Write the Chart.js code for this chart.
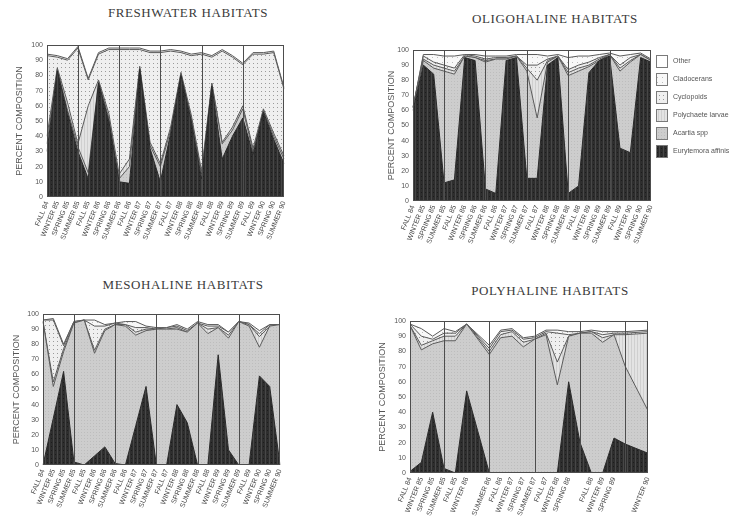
<!DOCTYPE html>
<html>
<head>
<meta charset="utf-8">
<script src="https://cdn.jsdelivr.net/npm/chart.js@4.4.1/dist/chart.umd.min.js"></script>
<style>
body { margin: 0; background: #fff; }
#page { position: relative; width: 736px; height: 521px; overflow: hidden; }
canvas { position: absolute; }
.title {
    position: absolute;
    font-family: "Liberation Serif", "DejaVu Serif", serif;
    font-size: 13px;
    color: #3a3a3a;
    letter-spacing: 0.6px;
    white-space: nowrap;
    transform: translate(-50%, -50%);
}
</style>
</head>
<body>
<div id="page">
    <div class="title" style="left:188px;top:13px">FRESHWATER HABITATS</div>
    <div class="title" style="left:555px;top:19px">OLIGOHALINE HABITATS</div>
    <div class="title" style="left:183px;top:285px">MESOHALINE HABITATS</div>
    <div class="title" style="left:550px;top:291px">POLYHALINE HABITATS</div>
    <canvas id="fresh" width="300" height="250" style="left:0;top:30px"></canvas>
    <canvas id="oligo" width="366" height="250" style="left:370px;top:30px"></canvas>
    <canvas id="meso" width="300" height="221" style="left:0;top:300px"></canvas>
    <canvas id="poly" width="300" height="221" style="left:370px;top:300px"></canvas>
</div>
<script>
const seasons = ['FALL 84', 'WINTER 85', 'SPRING 85', 'SUMMER 85', 'FALL 85', 'WINTER 86', 'SPRING 86', 'SUMMER 86',
    'FALL 86', 'WINTER 87', 'SPRING 87', 'SUMMER 87', 'FALL 87', 'WINTER 88', 'SPRING 88', 'SUMMER 88',
    'FALL 88', 'WINTER 89', 'SPRING 89', 'SUMMER 89', 'FALL 89', 'WINTER 90', 'SPRING 90', 'SUMMER 90'];
const taxa = ['Eurytemora affinis', 'Acartia spp', 'Polychaete larvae', 'Cyclopoids', 'Cladocerans', 'Other'];
const yearBreaks = [3, 7, 11, 15, 19]; // summer samples

// Freshwater (% of sample)
const freshEury    = [30, 83, 55, 30, 12, 75, 50, 10, 9, 84, 32, 10, 42, 80, 50, 12, 73, 25, 40, 52, 28, 56, 38, 22];
const freshAcartia = [5, 1, 2, 3, 4, 1, 2, 2, 11, 1, 2, 10, 2, 1, 2, 3, 1, 10, 4, 6, 2, 1, 2, 3];
const freshPoly    = [5, 1, 5, 2, 44, 1, 3, 3, 5, 1, 2, 2, 2, 1, 2, 2, 1, 1, 2, 2, 2, 1, 2, 2];
const freshCyclo   = [53, 7, 28, 63, 17, 17, 42, 82, 72, 11, 59, 73, 50, 13, 39, 77, 17, 60, 46, 27, 62, 36, 53, 44];
const freshClado   = [1, 1, 1, 1, 1, 1, 1, 1, 1, 1, 1, 1, 1, 1, 1, 1, 1, 1, 1, 1, 1, 1, 1, 1];
const freshOther   = [6, 7, 9, 1, 22, 5, 2, 2, 2, 2, 4, 4, 3, 4, 6, 5, 7, 3, 7, 12, 5, 5, 4, 28];

// Oligohaline
const oligoEury    = [60, 90, 84, 12, 14, 95, 93, 8, 5, 93, 95, 15, 15, 90, 95, 5, 10, 85, 93, 96, 35, 32, 95, 92];
const oligoAcartia = [2, 3, 4, 74, 70, 1, 2, 84, 89, 1, 1, 71, 40, 2, 1, 78, 76, 4, 0, 1, 51, 60, 2, 1];
const oligoPoly    = [0, 1, 2, 2, 2, 0, 0, 1, 0, 0, 0, 2, 25, 1, 0, 2, 2, 1, 1, 0, 2, 1, 0, 0];
const oligoCyclo   = [0, 2, 2, 2, 2, 1, 1, 1, 1, 1, 0, 2, 10, 1, 0, 2, 2, 2, 1, 0, 2, 2, 0, 0];
const oligoClado   = [0, 1, 5, 6, 8, 0, 1, 2, 1, 1, 1, 7, 7, 2, 1, 8, 6, 4, 2, 1, 6, 2, 1, 1];
const oligoOther   = [38, 3, 3, 4, 4, 3, 3, 4, 4, 4, 3, 3, 3, 4, 3, 5, 4, 4, 3, 2, 4, 3, 2, 6];

// Mesohaline
const mesoEury    = [0, 31, 62, 2, 0, 6, 12, 1, 0, 26, 52, 0, 0, 40, 28, 0, 0, 73, 10, 0, 0, 59, 52, 0];
const mesoAcartia = [95, 21, 13, 92, 96, 68, 77, 92, 92, 60, 37, 90, 90, 50, 60, 94, 87, 18, 74, 95, 92, 19, 40, 93];
const mesoPoly    = [0, 3, 2, 0, 0, 2, 1, 0, 1, 2, 1, 0, 0, 1, 0, 0, 3, 0, 2, 0, 1, 7, 0, 0];
const mesoCyclo   = [1, 41, 2, 1, 0, 16, 2, 1, 0, 3, 1, 0, 1, 1, 1, 0, 2, 1, 2, 0, 0, 2, 1, 0];
const mesoClado   = [0, 1, 1, 0, 0, 4, 1, 0, 2, 4, 1, 1, 0, 1, 1, 1, 1, 1, 0, 0, 1, 2, 0, 0];
const mesoOther   = [4, 3, 20, 5, 4, 4, 7, 6, 5, 5, 8, 9, 9, 7, 10, 5, 7, 7, 12, 5, 6, 11, 7, 7];

// Polyhaline: sampled seasons (index into seasons) and the ones that carry a label
const polySampled = [0, 1, 2, 3, 4, 5, 7, 8, 9, 10, 11, 12, 13, 14, 15, 16, 17, 18, 19, 21];
const polyTicks   = [0, 1, 2, 3, 4, 5, 7, 8, 9, 10, 11, 12, 13, 14, 16, 17, 18, 21];
const polyEury    = [1, 7, 40, 3, 0, 54, 0, 0, 0, 0, 0, 0, 0, 60, 20, 0, 0, 23, 19, 13];
const polyAcartia = [96, 74, 45, 84, 87, 44, 78, 89, 90, 83, 88, 91, 58, 30, 72, 92, 86, 68, 51, 28];
const polyPoly    = [0, 3, 2, 3, 3, 0, 2, 2, 3, 3, 0, 1, 15, 0, 0, 1, 3, 0, 21, 51];
const polyCyclo   = [1, 6, 1, 2, 2, 0, 2, 2, 1, 2, 1, 1, 19, 1, 0, 0, 2, 1, 1, 1];
const polyClado   = [0, 5, 2, 3, 1, 0, 2, 1, 1, 1, 1, 1, 2, 2, 1, 1, 2, 1, 1, 1];
const polyOther   = [2, 5, 10, 5, 7, 2, 16, 6, 5, 11, 10, 6, 6, 7, 7, 6, 7, 7, 7, 6];

const sansFont = '"Liberation Sans", "DejaVu Sans", sans-serif';

function makePattern(size, base, marks) {
    const c = document.createElement('canvas');
    c.width = size;
    c.height = size;
    const g = c.getContext('2d');
    g.fillStyle = base;
    g.fillRect(0, 0, size, size);
    marks.forEach(([x, y, w, h, col]) => {
        g.fillStyle = col;
        g.fillRect(x, y, w, h);
    });
    return g.createPattern(c, 'repeat');
}

// screen-print look of the original fills
const fills = [
    makePattern(4, '#2e2e2e', [[1, 0, 1, 4, '#474747'], [3, 2, 1, 1, '#1c1c1c']]),
    makePattern(3, '#cdcdcd', [[0, 0, 1, 1, '#bdbdbd']]),
    makePattern(3, '#e3e3e3', [[0, 0, 1, 3, '#cfcfcf']]),
    makePattern(4, '#efefef', [[1, 1, 1, 1, '#9a9a9a']]),
    makePattern(5, '#f8f8f8', [[2, 2, 1, 1, '#bdbdbd']]),
    '#ffffff'
];

function buildDatasets(series, xs) {
    return series.map((vals, k) => ({
        label: taxa[k],
        data: xs ? vals.map((v, i) => ({ x: xs[i], y: v })) : vals,
        backgroundColor: fills[k],
        borderColor: k === 0 ? '#2a2a2a' : '#5a5a5a',
        borderWidth: k === 5 ? 0 : 1,
        fill: k === 0 ? 'origin' : '-1',
        pointRadius: 0,
        tension: 0,
        stack: 'pct'
    }));
}

const framePlugin = {
    id: 'frame',
    afterDatasetsDraw(chart) {
        const { ctx, chartArea: a, scales: { x } } = chart;
        ctx.save();
        ctx.strokeStyle = '#4d4d4d';
        ctx.lineWidth = 1;
        ctx.strokeRect(a.left + 0.5, a.top + 0.5, a.width - 1, a.height - 1);
        yearBreaks.forEach(i => {
            const px = Math.round(x.getPixelForValue(i)) + 0.5;
            ctx.beginPath();
            ctx.moveTo(px, a.top);
            ctx.lineTo(px, a.bottom);
            ctx.stroke();
        });
        ctx.restore();
    }
};

const sideLegend = {
    id: 'sideLegend',
    afterDraw(chart) {
        const { ctx, chartArea: a } = chart;
        ctx.save();
        ctx.font = '7px ' + sansFont;
        ctx.textBaseline = 'middle';
        chart.data.datasets.slice().reverse().forEach((ds, n) => {
            const x = a.right + 5;
            const y = a.top + 5 + n * 18;
            ctx.fillStyle = ds.backgroundColor;
            ctx.fillRect(x, y, 11, 12);
            ctx.strokeStyle = '#7a7a7a';
            ctx.lineWidth = 1;
            ctx.strokeRect(x + 0.5, y + 0.5, 11, 12);
            ctx.fillStyle = '#555';
            ctx.fillText(ds.label, x + 17, y + 6);
        });
        ctx.restore();
    }
};

function makePanel(p) {
    const xScale = {
        grid: { display: false, drawTicks: false },
        border: { display: false },
        ticks: {
            autoSkip: false,
            minRotation: 68,
            maxRotation: 68,
            padding: 3,
            color: '#444',
            font: { size: 7, family: sansFont }
        },
        afterFit(s) { s.height = p.xh; }
    };
    if (p.xs) {
        Object.assign(xScale, {
            type: 'linear',
            min: 0,
            max: 21,
            afterBuildTicks(s) { s.ticks = polyTicks.map(v => ({ value: v })); }
        });
        xScale.ticks.callback = (value) => seasons[value];
    }

    return new Chart(document.getElementById(p.id).getContext('2d'), {
        type: 'line',
        data: {
            labels: p.xs ? undefined : seasons,
            datasets: buildDatasets(p.series, p.xs)
        },
        options: {
            responsive: false,
            animation: false,
            layout: { padding: p.pad },
            plugins: {
                legend: { display: false },
                tooltip: { enabled: false }
            },
            scales: {
                x: xScale,
                y: {
                    stacked: true,
                    min: 0,
                    max: 100,
                    grid: { display: false, drawTicks: false },
                    border: { display: false },
                    ticks: { stepSize: 10, padding: 4, color: '#555', font: { size: 7, family: sansFont } },
                    title: {
                        display: true,
                        text: 'PERCENT COMPOSITION',
                        color: '#555',
                        font: { size: 9, family: sansFont },
                        padding: { top: p.titleX - 5.4, bottom: 0 }
                    },
                    afterFit(s) { s.width = p.yw; }
                }
            }
        },
        plugins: p.legend ? [framePlugin, sideLegend] : [framePlugin]
    });
}

makePanel({
    id: 'fresh',
    series: [freshEury, freshAcartia, freshPoly, freshCyclo, freshClado, freshOther],
    yw: 47, xh: 83, titleX: 20,
    pad: { top: 15, right: 16, left: 0, bottom: 0 }
});
makePanel({
    id: 'oligo',
    series: [oligoEury, oligoAcartia, oligoPoly, oligoCyclo, oligoClado, oligoOther],
    yw: 43, xh: 79, titleX: 22, legend: true,
    pad: { top: 20, right: 85, left: 0, bottom: 0 }
});
makePanel({
    id: 'meso',
    series: [mesoEury, mesoAcartia, mesoPoly, mesoCyclo, mesoClado, mesoOther],
    yw: 43, xh: 56, titleX: 17,
    pad: { top: 14, right: 20, left: 0, bottom: 0 }
});
makePanel({
    id: 'poly',
    series: [polyEury, polyAcartia, polyPoly, polyCyclo, polyClado, polyOther],
    xs: polySampled,
    yw: 40, xh: 48, titleX: 13,
    pad: { top: 21, right: 22, left: 0, bottom: 0 }
});
</script>
</body>
</html>
